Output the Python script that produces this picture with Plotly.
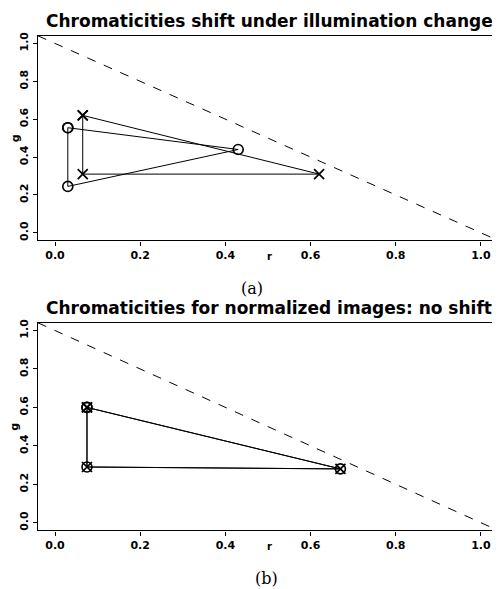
import plotly.graph_objects as go

# page body adds an 8px offset; work in reference pixels and shift
OFF = 8
W, H = 500 - OFF, 589 - OFF

# ---- data ----
# (a) chromaticities shift under illumination change
a_x_r = [0.065, 0.065, 0.62, 0.065]
a_x_g = [0.62, 0.31, 0.31, 0.62]
a_o_r = [0.03, 0.03, 0.43, 0.03]
a_o_g = [0.555, 0.245, 0.44, 0.555]
# (b) normalized images: no shift
b_x_r = [0.075, 0.075, 0.67, 0.075]
b_x_g = [0.60, 0.29, 0.28, 0.60]
b_o_r = [0.075, 0.075, 0.67, 0.075]
b_o_g = [0.60, 0.29, 0.28, 0.60]
# r + g = 1 reference line
diag_r = [-0.04, 1.04]
diag_g = [1.04, -0.04]

tick_vals = [0.0, 0.2, 0.4, 0.6, 0.8, 1.0]
tick_text = ["0.0", "0.2", "0.4", "0.6", "0.8", "1.0"]

titles = ["Chromaticities shift under illumination change",
          "Chromaticities for normalized images: no shift"]
captions = ["(a)", "(b)"]

FONT = "DejaVu Sans"

fig = go.Figure()


def px_x(p):
    return (p - OFF) / W


def px_y(p):
    return 1 - (p - OFF) / H


panels = [
    dict(xa="x", ya="y", top=32, bot=238,
         xr=a_x_r, xg=a_x_g, orr=a_o_r, og=a_o_g),
    dict(xa="x2", ya="y2", top=321, bot=530,
         xr=b_x_r, xg=b_x_g, orr=b_o_r, og=b_o_g),
]

for i, p in enumerate(panels):
    fig.add_trace(go.Scatter(x=diag_r, y=diag_g, mode="lines",
                             line=dict(color="black", width=1, dash="dash"),
                             xaxis=p["xa"], yaxis=p["ya"], showlegend=False))
    fig.add_trace(go.Scatter(x=p["orr"], y=p["og"], mode="lines+markers",
                             line=dict(color="black", width=1),
                             marker=dict(symbol="circle-open", size=10,
                                         color="black", line=dict(width=1.6)),
                             xaxis=p["xa"], yaxis=p["ya"], showlegend=False))
    fig.add_trace(go.Scatter(x=p["xr"], y=p["xg"], mode="lines+markers",
                             line=dict(color="black", width=1),
                             marker=dict(symbol="x-thin-open", size=10,
                                         color="black", line=dict(width=1.7)),
                             xaxis=p["xa"], yaxis=p["ya"], showlegend=False))

axis_common = dict(range=[-0.04, 1.04], showgrid=False, zeroline=False,
                   showline=True, linecolor="black", linewidth=1.3,
                   mirror=True, ticks="outside", ticklen=4, tickwidth=1,
                   tickcolor="black", tickvals=tick_vals, ticktext=tick_text,
                   tickfont=dict(family=FONT, size=11, color="black",
                                 weight="bold"))

layout = dict(width=W, height=H, margin=dict(l=0, r=0, t=0, b=0),
              plot_bgcolor="white", paper_bgcolor="white",
              showlegend=False, annotations=[])

for i, p in enumerate(panels):
    xn = "xaxis" if i == 0 else "xaxis2"
    yn = "yaxis" if i == 0 else "yaxis2"
    layout[xn] = dict(axis_common, domain=[px_x(38), px_x(498)],
                      anchor=p["ya"])
    layout[yn] = dict(axis_common, domain=[px_y(p["bot"]), px_y(p["top"])],
                      anchor=p["xa"], tickangle=-90)
    # title
    layout["annotations"].append(dict(
        text=titles[i], x=px_x(269), y=px_y(p["top"] - 15), xref="paper",
        yref="paper", showarrow=False, xanchor="center", yanchor="middle",
        font=dict(family=FONT, size=17, color="black", weight="bold")))
    # r label
    layout["annotations"].append(dict(
        text="r", x=px_x(269), y=px_y(p["bot"] + 16), xref="paper",
        yref="paper", showarrow=False, xanchor="center", yanchor="middle",
        font=dict(family=FONT, size=10, color="black", weight="bold")))
    # g label
    layout["annotations"].append(dict(
        text="g", x=px_x(15), y=px_y((p["top"] + p["bot"]) / 2), xref="paper",
        yref="paper", showarrow=False, xanchor="center", yanchor="middle",
        textangle=-90, font=dict(family=FONT, size=11, color="black",
                                 weight="bold")))
    # caption
    cap_y = [286, 578][i]
    cap_x = [252, 266][i]
    layout["annotations"].append(dict(
        text=captions[i], x=px_x(cap_x), y=px_y(cap_y), xref="paper",
        yref="paper", showarrow=False, xanchor="center", yanchor="middle",
        font=dict(family="DejaVu Serif", size=16, color="black")))

fig.update_layout(**layout)
fig.write_html("out.html")
